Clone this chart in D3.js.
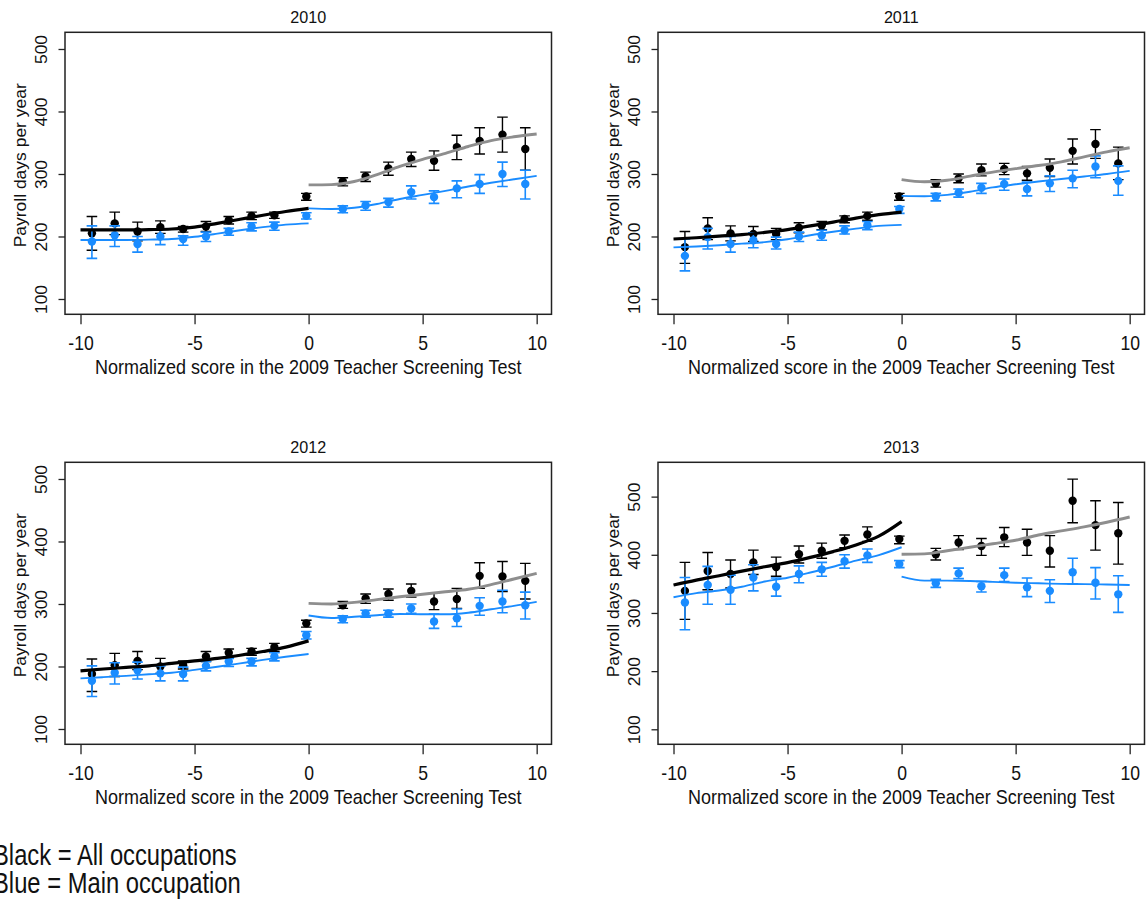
<!DOCTYPE html>
<html>
<head>
<meta charset="utf-8">
<script src="https://cdn.jsdelivr.net/npm/d3@7"></script>
<style>
  html, body { margin: 0; padding: 0; background: #fff; }
  svg { display: block; font-family: "Liberation Sans", Arial, Helvetica, sans-serif; }
</style>
</head>
<body>
<svg id="chart" width="1146" height="899"></svg>
<script>
// ---------------- DATA ----------------
const years = ["2010", "2011", "2012", "2013"];
const xTicks = [-10, -5, 0, 5, 10];
const yTicks = [100, 200, 300, 400, 500];
const binX = [-9.5, -8.5, -7.5, -6.5, -5.5, -4.5, -3.5, -2.5, -1.5, -0.1, 1.5, 2.5, 3.5, 4.5, 5.5, 6.5, 7.5, 8.5, 9.5];
const yDomains = [[75.5, 526.7], [75.5, 526.7], [75.5, 526.7], [74.2, 559]];

// Black = all occupations (means and 95% CI)
const blackMean = [
  [205, 221, 208, 215, 212, 216, 226, 233, 234, 264, 288, 296, 309, 324, 321, 343, 353, 363, 340],
  [183, 213, 205, 204, 204, 214, 218, 228, 233, 264, 285, 293, 306, 308, 301, 310, 337, 348, 317],
  [188, 202, 209, 200, 202, 216, 222, 224, 231, 269, 298, 309, 316, 321, 304, 308, 345, 344, 337],
  [338, 372, 367, 387, 379, 401, 407, 424, 435, 427, 401, 421, 415, 430, 421, 407, 493, 451, 437]
];
const blackHi = [
  [232, 239, 223, 225, 216, 224, 232, 239, 239, 269, 294, 303, 319, 335, 337, 362, 374, 391, 374],
  [208, 230, 217, 216, 213, 222, 224, 233, 239, 269, 291, 300, 316, 317, 312, 324, 356, 371, 343],
  [212, 221, 224, 213, 209, 224, 228, 229, 237, 274, 304, 316, 324, 332, 317, 325, 366, 368, 365],
  [387, 404, 391, 408, 396, 415, 420, 434, 448, 432, 411, 433, 428, 447, 444, 433, 530, 493, 490]
];
const blackLo = [
  [178, 203, 193, 205, 207, 208, 220, 227, 229, 258, 281, 288, 298, 312, 306, 323, 332, 335, 306],
  [157, 195, 193, 192, 195, 206, 211, 222, 226, 258, 279, 286, 297, 299, 290, 296, 316, 325, 291],
  [160, 184, 195, 189, 196, 208, 215, 218, 224, 263, 293, 301, 306, 311, 291, 293, 325, 320, 308],
  [289, 340, 343, 366, 363, 386, 394, 412, 423, 419, 391, 409, 399, 414, 399, 379, 455, 408, 384]
];
// Blue = main occupation
const blueMean = [
  [192, 202, 188, 200, 196, 200, 208, 216, 217, 233, 244, 250, 255, 271, 263, 277, 284, 300, 284],
  [169, 199, 188, 194, 188, 200, 202, 210, 218, 244, 264, 270, 278, 284, 276, 285, 293, 312, 289],
  [177, 190, 194, 189, 188, 201, 208, 208, 216, 250, 276, 285, 285, 293, 272, 277, 297, 304, 298],
  [318, 348, 340, 361, 345, 367, 375, 389, 399, 384, 351, 368, 346, 365, 344, 338, 370, 352, 332]
];
const blueHi = [
  [217, 217, 200, 212, 201, 207, 213, 222, 223, 238, 249, 256, 261, 281, 273, 289, 299, 319, 306],
  [196, 213, 200, 206, 199, 207, 210, 217, 224, 248, 269, 276, 285, 292, 287, 297, 306, 329, 313],
  [201, 206, 207, 201, 199, 208, 213, 213, 222, 256, 281, 290, 290, 300, 284, 292, 310, 322, 319],
  [361, 380, 365, 383, 360, 381, 387, 400, 410, 390, 358, 377, 354, 377, 360, 357, 394, 378, 364]
];
const blueLo = [
  [165, 184, 175, 187, 186, 192, 202, 209, 210, 228, 238, 242, 247, 260, 253, 262, 269, 280, 260],
  [145, 180, 175, 182, 180, 192, 194, 204, 211, 237, 257, 263, 269, 274, 265, 272, 278, 294, 266],
  [152, 172, 180, 177, 177, 193, 200, 201, 209, 244, 270, 279, 279, 285, 261, 264, 282, 286, 276],
  [271, 315, 315, 338, 329, 352, 363, 377, 387, 378, 344, 359, 336, 354, 328, 318, 350, 324, 301]
];

// Smoothed fits on each side of the cutoff
const fitLeftX = [-10, -9, -8, -7, -6, -5, -4, -3, -2, -1, 0];
const fitRightX = [0, 1, 2, 3, 4, 5, 6, 7, 8, 9, 10];
const blackFitLeft = [
  [210.5, 210.5, 210.5, 211, 212, 215, 221, 227.5, 234, 240, 245],
  [196, 198, 200.5, 203, 206.5, 211, 217, 223, 229.5, 235, 239],
  [193, 196, 198.5, 201, 205, 209, 213, 218, 224, 231, 241],
  [348, 356.5, 364, 372, 379.5, 386.5, 395.5, 405.5, 417, 432, 457]
];
const grayFitRight = [
  [282.5, 283, 288, 299, 312, 323.5, 333, 344, 353.5, 359.5, 364],
  [291, 287.5, 290, 296.5, 303, 308.5, 313.5, 319.5, 327.5, 335.5, 342],
  [301, 300, 302.5, 307, 311.5, 315.5, 319.5, 323.5, 331, 340, 349],
  [401, 401.5, 407, 413, 419, 425, 434, 441, 448, 456, 465]
];
const blueFitLeft = [
  [194.5, 194.5, 194.5, 195, 196, 199.5, 204.5, 210, 215, 219, 221],
  [182.5, 184, 186, 188.5, 191, 195.5, 202, 207.5, 212.5, 217, 218.5],
  [181, 183, 185, 187.5, 190, 194.5, 199.5, 205, 210.5, 215.5, 220],
  [327, 334, 338.5, 345, 354, 360.5, 369.5, 379.5, 390, 399.5, 413]
];
const blueFitRight = [
  [245, 244, 246, 252, 260, 266.5, 273, 280, 286, 291.5, 297],
  [265, 264.5, 266.5, 271.5, 278.5, 283.5, 288, 292, 296, 300, 305],
  [281.5, 277.5, 279.5, 282, 284, 283.5, 283.5, 286, 291.5, 297, 303.5],
  [362.5, 355.5, 355.5, 355, 353.5, 352, 351, 350, 349.5, 349, 348]
];

const xLabel = "Normalized score in the 2009 Teacher Screening Test";
const yLabel = "Payroll days per year";
const legendLines = ["Black = All occupations", "Blue = Main occupation"];

// ---------------- LAYOUT ----------------
const svg = d3.select("#chart");
const BLUE = "#1a8cff";
const GRAY = "#8e8e8e";
const panelW = 486.5, panelH = 282;
const panelPos = [[65, 32.3], [658, 32.3], [65, 462.3], [658, 462.3]];

years.forEach((yr, i) => {
  const [px, py] = panelPos[i];
  const g = svg.append("g").attr("transform", `translate(${px},${py})`);
  const x = d3.scaleLinear().domain([-10.68, 10.65]).range([0, panelW]);
  const y = d3.scaleLinear().domain(yDomains[i]).range([panelH, 0]);

  // frame
  g.append("rect").attr("x", 0).attr("y", 0).attr("width", panelW).attr("height", panelH)
    .attr("fill", "none").attr("stroke", "#222").attr("stroke-width", 1.5);

  // y axis
  const ya = g.append("g").call(d3.axisLeft(y).tickValues(yTicks).tickSize(6.5).tickFormat(d => String(d)));
  ya.select(".domain").remove();
  ya.selectAll(".tick line").attr("stroke", "#222").attr("stroke-width", 1.3);
  ya.selectAll(".tick text")
    .attr("x", 0).attr("dy", 0).attr("text-anchor", "middle")
    .attr("transform", "translate(-18.5,0) scale(0.93,1) rotate(-90)")
    .attr("fill", "#111").style("font-size", "17.5px")
    .style("font-family", '"Liberation Sans", Arial, Helvetica, sans-serif');

  // x axis
  const xa = g.append("g").attr("transform", `translate(0,${panelH})`)
    .call(d3.axisBottom(x).tickValues(xTicks).tickSize(10).tickFormat(d => String(d)));
  xa.select(".domain").remove();
  xa.selectAll(".tick line").attr("stroke", "#222").attr("stroke-width", 1.3);
  xa.selectAll(".tick text")
    .attr("y", 0).attr("dy", 0).attr("text-anchor", "middle")
    .attr("transform", "translate(0,35.4) scale(0.88,1)")
    .attr("fill", "#111").style("font-size", "20px")
    .style("font-family", '"Liberation Sans", Arial, Helvetica, sans-serif');

  // titles
  g.append("text").attr("text-anchor", "middle")
    .attr("transform", `translate(${panelW / 2},-9) scale(0.95,1)`)
    .attr("fill", "#111").style("font-size", "17px").text(yr);
  g.append("text").attr("text-anchor", "middle")
    .attr("transform", `translate(${panelW / 2},${panelH + 59.7}) scale(0.9,1)`)
    .attr("fill", "#111").style("font-size", "20px").text(xLabel);
  g.append("text").attr("text-anchor", "middle")
    .attr("transform", `translate(-39.5,${panelH / 2 - 8}) scale(0.93,1) rotate(-90)`)
    .attr("fill", "#111").style("font-size", "17.5px").text(yLabel);

  const capW = 5.3;
  function drawSeries(mean, lo, hi, color, sw) {
    const data = binX.map((bx, k) => ({ x: bx, m: mean[k], lo: lo[k], hi: hi[k] }));
    const eg = g.append("g").attr("stroke", color).attr("stroke-width", sw).attr("fill", "none");
    eg.selectAll("path").data(data).enter().append("path")
      .attr("d", d => {
        const cx = x(d.x), yl = y(d.lo), yh = y(d.hi);
        return `M${cx - capW},${yh}H${cx + capW}M${cx},${yh}V${yl}M${cx - capW},${yl}H${cx + capW}`;
      });
    g.append("g").selectAll("circle").data(data).enter().append("circle")
      .attr("cx", d => x(d.x)).attr("cy", d => y(d.m)).attr("r", 4.2).attr("fill", color);
  }
  drawSeries(blackMean[i], blackLo[i], blackHi[i], "#000", 1.4);
  drawSeries(blueMean[i], blueLo[i], blueHi[i], BLUE, 1.6);

  const line = d3.line().x(d => x(d[0])).y(d => y(d[1])).curve(d3.curveMonotoneX);
  const addLine = (xs, ys, color, w) => g.append("path")
    .attr("d", line(xs.map((v, k) => [v, ys[k]])))
    .attr("fill", "none").attr("stroke", color).attr("stroke-width", w).attr("stroke-linecap", "butt");
  addLine(fitLeftX, blueFitLeft[i], BLUE, 1.9);
  addLine(fitRightX, blueFitRight[i], BLUE, 1.9);
  addLine(fitLeftX, blackFitLeft[i], "#000", 3.2);
  addLine(fitRightX, grayFitRight[i], GRAY, 2.9);
});

// legend note (the reference cuts the first letter at the left edge)
legendLines.forEach((t, k) => {
  svg.append("text").attr("transform", `translate(-7,${865 + k * 28}) scale(0.82,1)`)
    .attr("fill", "#111").style("font-size", "29px").text(t);
});
</script>
</body>
</html>
